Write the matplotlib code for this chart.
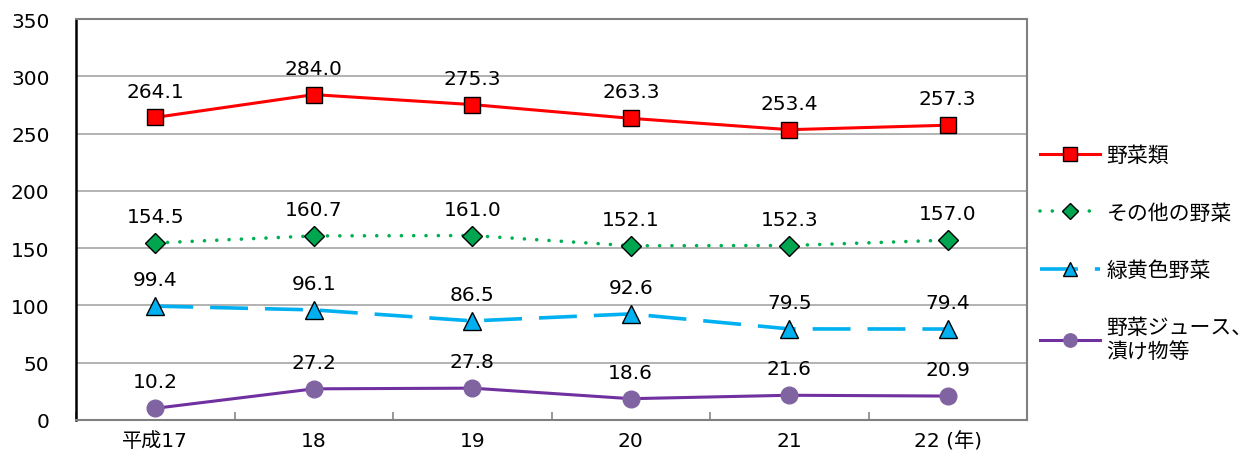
import numpy as np
import matplotlib
matplotlib.use('Agg')
import matplotlib.pyplot as plt

plt.rcParams['font.family'] = ['DejaVu Sans', 'Noto Sans CJK JP']

anios = ['平成17', '18', '19', '20', '21', '22 (年)']
verduras = [264.1, 284.0, 275.3, 263.3, 253.4, 257.3]
otras = [154.5, 160.7, 161.0, 152.1, 152.3, 157.0]
verde_amarillo = [99.4, 96.1, 86.5, 92.6, 79.5, 79.4]
zumos = [10.2, 27.2, 27.8, 18.6, 21.6, 20.9]

nombres = ['野菜類', 'その他の野菜', '緑黄色野菜', '野菜ジュース、\n漬け物等']

fig = plt.figure(figsize=(12.55, 4.56), dpi=100)
ax = fig.add_axes([76 / 1255, 1 - 421 / 456, (1027 - 76) / 1255, (421 - 20) / 456])

x = np.arange(len(anios))

estilos = [
    dict(color='#FF0000', lw=2.2, marker='s', ms=12, mfc='#FF0000', mec='black', mew=1),
    dict(color='#00B050', lw=2.6, ls=(0, (0.01, 3.4)), dash_capstyle='round',
         marker='D', ms=10, mfc='#00A550', mec='black', mew=1),
    dict(color='#00B0F0', lw=2.6, ls=(0, (10.5, 4.7)),
         marker='^', ms=13, mfc='#00B0F0', mec='black', mew=1),
    dict(color='#7030A0', lw=2.2, marker='o', ms=12, mfc='#8064A2', mec='#8064A2', mew=1),
]

for serie, nombre, est in zip([verduras, otras, verde_amarillo, zumos], nombres, estilos):
    ax.plot(x, serie, label=nombre, zorder=3, **est)
    for xi, v in zip(x, serie):
        ax.annotate('{:.1f}'.format(v), (xi, v), xytext=(0, 19), textcoords='offset points',
                    ha='center', va='center', fontsize=14.5)

ax.set_xlim(-0.5, 5.5)
ax.set_ylim(0, 350)
ax.set_yticks(np.arange(0, 351, 50))
ax.yaxis.grid(True, color='#A6A6A6', lw=1.2)
ax.set_axisbelow(True)

ax.set_xticks(x)
ax.set_xticklabels(anios)
ax.set_xticks(np.arange(-0.5, 6, 1), minor=True)
ax.tick_params(axis='x', which='major', length=0, pad=8, labelsize=14.5)
ax.tick_params(axis='x', which='minor', direction='in', length=6, color='#868686', width=1.2)
ax.tick_params(axis='y', length=0, pad=19, labelsize=14.5)

ax.spines['left'].set_color('black')
ax.spines['left'].set_linewidth(1.8)
for lado in ['bottom', 'top', 'right']:
    ax.spines[lado].set_color('#808080')
    ax.spines[lado].set_linewidth(1.5)

fig.legend(loc='upper left', bbox_to_anchor=(1040 / 1255, 1 - 146 / 456), frameon=False,
           fontsize=15, handlelength=2.9, handletextpad=0.3, labelspacing=1.8,
           markerscale=0.8, borderpad=0, borderaxespad=0)

plt.savefig('out.png', dpi=100)
